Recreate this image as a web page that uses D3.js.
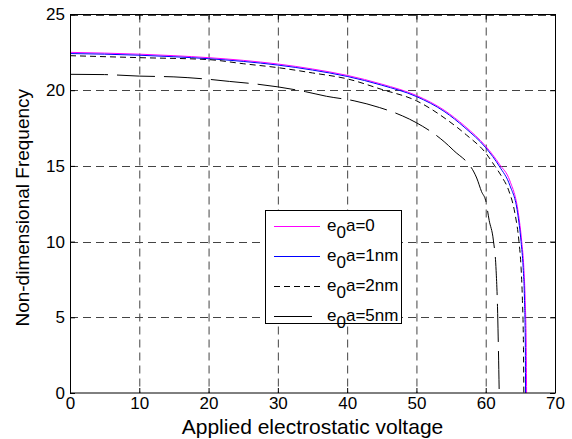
<!DOCTYPE html>
<html><head><meta charset="utf-8">
<script src="https://cdn.jsdelivr.net/npm/d3@7"></script>
<style>body{margin:0;background:#fff}svg{display:block}text{font-family:"Liberation Sans",Arial,sans-serif}</style>
</head><body>
<svg id="c" width="572" height="439"></svg>
<script>
const xTicks = [0,10,20,30,40,50,60,70];
const yTicks = [0,5,10,15,20,25];
const seriesNames = ["0","1nm","2nm","5nm"];
const s0 = [[0,22.5],[5,22.45],[10,22.38],[15,22.28],[20,22.15],[25,21.97],[30,21.73],[35,21.4],[40,20.98],[45,20.4],[50,19.65],[54,18.68],[57,17.62],[60,16.3],[62,15.1],[63.5,14.0],[64.7,11.9],[65.2,10.0],[65.5,8.3],[65.7,6.1],[65.85,3],[65.9,0]];
const s1 = [[0,22.42],[5,22.38],[10,22.31],[15,22.21],[20,22.08],[25,21.9],[30,21.66],[35,21.33],[40,20.91],[45,20.33],[50,19.58],[54,18.6],[57,17.52],[60,16.2],[62,14.95],[63.5,13.7],[64.6,11.9],[65.1,10.0],[65.4,8.3],[65.6,6.1],[65.72,3],[65.75,0]];
const s2 = [[0,22.28],[10,22.15],[20,22.02],[25,21.75],[30,21.49],[35,21.14],[40,20.75],[45,20.05],[50,19.3],[54.4,18.05],[57.2,17.05],[60,15.85],[61.3,15.0],[62.3,14.3],[63.3,13.4],[64.2,11.9],[64.8,10.0],[65.1,8.3],[65.3,6.1],[65.45,3],[65.5,0]];
const s3 = [[0,21.05],[5,21.03],[10,20.93],[15,20.88],[20,20.72],[23,20.58],[27,20.4],[30,20.22],[34,19.9],[37,19.6],[41,19.3],[44.7,18.85],[48,18.3],[50,17.85],[54,16.6],[55.3,16.05],[58.7,14.2],[59.4,13.3],[60.0,12.7],[60.5,11.4],[61.1,10.1],[61.5,8.1],[61.7,5.7],[61.8,3.7],[61.95,0]];
const seriesData = [s0,s1,s2,s3];
const styles = [
  {color:"#ff00ff", dash:null},
  {color:"#0000ff", dash:null},
  {color:"#000", dash:"6,4"},
  {color:"#000", dash:"38,9"}
];

const svg = d3.select("#c");
const L=70,R=555,T=14.5,B=393;
const x = d3.scaleLinear().domain([0,70]).range([L,R]);
const y = d3.scaleLinear().domain([0,25]).range([B,T]);

// grid
const g = svg.append("g");
g.selectAll(".vg").data(xTicks.slice(1)).enter().append("line")
  .attr("x1",d=>x(d)+0.5).attr("x2",d=>x(d)+0.5).attr("y1",T).attr("y2",B)
  .attr("stroke","#444").attr("stroke-dasharray","8,5");
g.selectAll(".hg").data(yTicks.slice(1)).enter().append("line")
  .attr("y1",d=>Math.round(y(d))+0.5).attr("y2",d=>Math.round(y(d))+0.5).attr("x1",L).attr("x2",R)
  .attr("stroke","#444").attr("stroke-dasharray","8,5");

// axes
const fs = 17;
const ax = svg.append("g").attr("transform",`translate(0,${B})`)
  .call(d3.axisBottom(x).tickValues(xTicks).tickSizeInner(-5).tickSizeOuter(0).tickPadding(4));
const axT = svg.append("g").attr("transform",`translate(0,${T})`)
  .call(d3.axisTop(x).tickValues(xTicks).tickSizeInner(-5).tickSizeOuter(0).tickFormat(""));
const ay = svg.append("g").attr("transform",`translate(${L},0)`)
  .call(d3.axisLeft(y).tickValues(yTicks).tickSizeInner(-5).tickSizeOuter(0).tickPadding(5));
const ayR = svg.append("g").attr("transform",`translate(${R},0)`)
  .call(d3.axisRight(y).tickValues(yTicks).tickSizeInner(-5).tickSizeOuter(0).tickFormat(""));
[ax,axT,ay,ayR].forEach(a=>{
  a.select(".domain").remove();
  a.selectAll("text").attr("font-size",fs).attr("font-family","Liberation Sans, Arial, sans-serif").attr("fill","#000");
  a.selectAll("line").attr("stroke","#000");
});

// lines
const line = d3.line().x(d=>x(d[0])).y(d=>y(d[1])).curve(d3.curveMonotoneX);
seriesData.forEach((s,i)=>{
  const p = svg.append("path").datum(s).attr("d",line).attr("fill","none")
    .attr("stroke",styles[i].color).attr("stroke-width",1);
  if(styles[i].dash) p.attr("stroke-dasharray",styles[i].dash);
});

// box
svg.append("rect").attr("x",L+0.5).attr("y",T).attr("width",R-L).attr("height",B-T)
  .attr("fill","none").attr("stroke","#000").attr("stroke-width",1);

// axis labels
svg.append("text").attr("x",(L+R)/2).attr("y",434).attr("text-anchor","middle")
  .attr("font-size",21).text("Applied electrostatic voltage");
svg.append("text").attr("transform",`translate(29,${(T+B)/2+4}) rotate(-90)`).attr("text-anchor","middle")
  .attr("font-size",19).text("Non-dimensional Frequency");

// legend
const lg = svg.append("g");
const box = lg.append("rect").attr("x",265.5).attr("y",210.5).attr("height",113)
  .attr("fill","#fff").attr("stroke","#000");
const ly = [226,256,286,316];
let maxR = 0;
seriesNames.forEach((n,i)=>{
  const l = lg.append("line").attr("x1",274).attr("x2",320).attr("y1",ly[i]+0.5).attr("y2",ly[i]+0.5)
    .attr("stroke",styles[i].color);
  if(styles[i].dash) l.attr("stroke-dasharray",styles[i].dash);
  const t = lg.append("text").attr("x",327).attr("y",ly[i]+5).attr("font-size",17);
  t.append("tspan").text("e");
  t.append("tspan").attr("dy",7).text("0");
  t.append("tspan").attr("dy",-7).text("a="+n);
  maxR = Math.max(maxR, t.node().getBBox().x + t.node().getBBox().width);
});
box.attr("width", Math.round(maxR + 3 - 265.5));
</script>
</body></html>
